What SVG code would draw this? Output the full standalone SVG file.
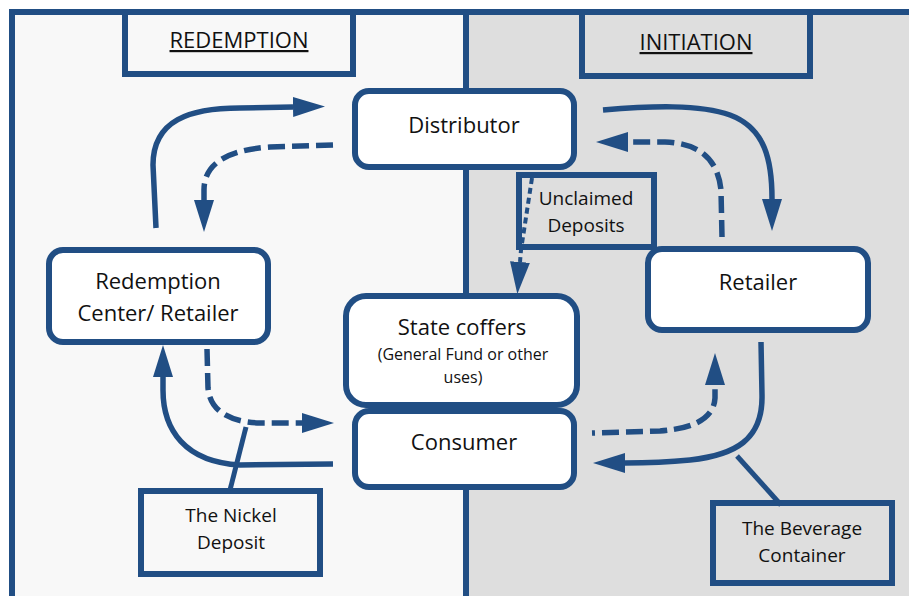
<svg xmlns="http://www.w3.org/2000/svg" width="909" height="596" viewBox="0 0 909 596">
<defs>
<style>
.box{fill:#ffffff;stroke:#214e84;stroke-width:6}
.sq{fill:none;stroke:#214e84;stroke-width:6}
.lbl{fill:none;stroke:#214e84;stroke-width:6}
.t{font-family:"Open Sans","Liberation Sans",sans-serif;fill:#111111;text-anchor:middle}
.main{font-size:22px}
.sub{font-size:19px}
.small{font-size:16px}
.hd{font-size:22px;text-decoration:underline}
.solid{fill:none;stroke:#214e84;stroke-width:5.5;stroke-linecap:butt}
.dash{fill:none;stroke:#214e84;stroke-width:5.5;stroke-dasharray:17 7}
.dot{fill:none;stroke:#214e84;stroke-width:4;stroke-dasharray:6 4}
.ptr{fill:none;stroke:#214e84;stroke-width:5}
</style>
<marker id="ah" viewBox="0 -11 33 22" refX="0" refY="0" markerUnits="userSpaceOnUse" markerWidth="33" markerHeight="22" orient="auto">
<path d="M0,-10 L32,0 L0,10 Z" fill="#214e84"/>
</marker>
</defs>
<rect x="0" y="0" width="909" height="596" fill="#ffffff"/>
<g id="panels">
<rect x="12" y="12" width="454" height="600" fill="#f8f8f8"/>
<rect x="466" y="12" width="460" height="600" fill="#dedede"/>
<line x1="466" y1="12" x2="466" y2="600" stroke="#214e84" stroke-width="6"/>
<rect x="12" y="12" width="920" height="600" fill="none" stroke="#214e84" stroke-width="6"/>
</g>
<g id="redemption-header">
<rect class="sq" x="125" y="12" width="228" height="62"/>
<text class="t hd" x="239" y="48">REDEMPTION</text>
</g>
<g id="initiation-header">
<rect class="sq" x="582" y="12" width="228" height="64"/>
<text class="t hd" x="696" y="50">INITIATION</text>
</g>
<g id="unclaimed">
<rect x="519" y="175" width="135" height="72" fill="#dedede" stroke="#214e84" stroke-width="6"/>
<text class="t sub" x="586" y="205">Unclaimed</text>
<text class="t sub" x="586" y="232">Deposits</text>
</g>
<g id="distributor">
<rect class="box" x="355" y="91" width="219" height="76" rx="14"/>
<text class="t main" x="464" y="133">Distributor</text>
</g>
<g id="state-coffers">
<rect class="box" x="346" y="296" width="231" height="109" rx="20"/>
<text class="t main" x="462" y="335">State coffers</text>
<text class="t small" x="463" y="360">(General Fund or other</text>
<text class="t small" x="463" y="383">uses)</text>
</g>
<g id="consumer">
<rect class="box" x="355" y="411" width="219" height="76" rx="14"/>
<text class="t main" x="464" y="450">Consumer</text>
</g>
<g id="retailer">
<rect class="box" x="648" y="249" width="220" height="81" rx="14"/>
<text class="t main" x="758" y="290">Retailer</text>
</g>
<g id="redemption-center">
<rect class="box" x="49" y="250" width="219" height="92" rx="14"/>
<text class="t main" x="158" y="289">Redemption</text>
<text class="t main" x="158" y="321">Center/ Retailer</text>
</g>
<g id="nickel-deposit">
<rect class="lbl" x="141" y="491" width="179" height="83"/>
<text class="t sub" x="231" y="522">The Nickel</text>
<text class="t sub" x="231" y="549">Deposit</text>
</g>
<g id="beverage-container">
<rect class="lbl" x="713" y="503" width="179" height="80"/>
<text class="t sub" x="802" y="535">The Beverage</text>
<text class="t sub" x="802" y="562">Container</text>
</g>
<g id="connectors">
<path class="solid" d="M156,228 L153,165 C153,120 190,108 240,108 L293,107" marker-end="url(#ah)"/>
<path class="dash" d="M333,145 L270,147 C225,150 204,165 204,190 L204,200" marker-end="url(#ah)"/>
<path class="solid" d="M603,110 C650,106 700,104 730,115 C765,128 772,160 772,199" marker-end="url(#ah)"/>
<path class="dash" d="M722,237 L721,190 C718,160 700,143 665,142 L628,142" marker-end="url(#ah)"/>
<path class="dot" d="M532,178 L521,250 L520,262" marker-end="url(#ah)"/>
<path class="solid" d="M333,464 L240,465 C185,462 163,430 163,390 L163,377" marker-end="url(#ah)"/>
<path class="dash" d="M207,349 L208,388 C210,410 228,422 260,423 L302,423" marker-end="url(#ah)"/>
<path class="dash" d="M592,433 L660,431 C700,428 714,415 715,398 L715,385" marker-end="url(#ah)" stroke-dashoffset="14"/>
<path class="solid" d="M761,342 L762,395 C763,440 735,455 690,460 C670,462 650,463 625,463" marker-end="url(#ah)"/>
<path class="ptr" d="M246,427 L230,490"/>
<path class="ptr" d="M737,456 L781,505"/>
</g>
</svg>
